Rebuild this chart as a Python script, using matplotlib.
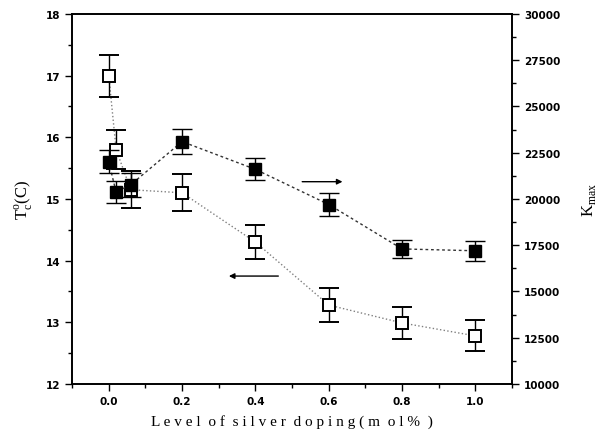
import matplotlib
matplotlib.use('Agg')
import matplotlib.pyplot as plt
from matplotlib.ticker import MultipleLocator

# data
doping = [0.0, 0.02, 0.06, 0.2, 0.4, 0.6, 0.8, 1.0]
tc = [17.0, 15.8, 15.15, 15.1, 14.3, 13.28, 12.99, 12.78]
tc_err = [0.34, 0.32, 0.3, 0.3, 0.28, 0.27, 0.26, 0.25]
kmax = [22000, 20370, 20770, 23100, 21600, 19700, 17300, 17200]
kmax_err = [620, 600, 650, 680, 600, 600, 500, 550]

tick_font = dict(fontsize=7.5, fontweight='bold', family='DejaVu Sans')

fig = plt.figure(figsize=(6.06, 4.39), dpi=100)
ax = fig.add_axes([0.119, 0.123, 0.726, 0.843])
ax2 = ax.twinx()

ax.errorbar(doping, tc, yerr=tc_err, fmt='s', color='black', mfc='white',
            mec='black', mew=1.4, ms=8, capsize=7, elinewidth=1, capthick=1,
            zorder=3)
ax.plot(doping, tc, ':', color='gray', lw=1, zorder=2)

ax2.errorbar(doping, kmax, yerr=kmax_err, fmt='s', color='black', mfc='black',
             mec='black', ms=8, capsize=7, elinewidth=1, capthick=1, zorder=3)
ax2.plot(doping, kmax, linestyle=(0, (2, 2)), color='#333333', lw=1, zorder=2)

ax.set_xlim(-0.1, 1.1)
ax.set_ylim(12, 18)
ax2.set_ylim(10000, 30000)

ax.xaxis.set_major_locator(MultipleLocator(0.2))
ax.xaxis.set_minor_locator(MultipleLocator(0.1))
ax.yaxis.set_major_locator(MultipleLocator(1))
ax.yaxis.set_minor_locator(MultipleLocator(0.5))
ax2.yaxis.set_major_locator(MultipleLocator(2500))
ax2.yaxis.set_minor_locator(MultipleLocator(1250))

ax.set_xticks([0, 0.2, 0.4, 0.6, 0.8, 1.0])
ax.set_xticklabels(['0.0', '0.2', '0.4', '0.6', '0.8', '1.0'], **tick_font)
ax.set_yticks(range(12, 19))
ax.set_yticklabels([str(v) for v in range(12, 19)], **tick_font)
ax2.set_yticks(range(10000, 30001, 2500))
ax2.set_yticklabels([str(v) for v in range(10000, 30001, 2500)], **tick_font)

for a in (ax, ax2):
    a.tick_params(which='major', direction='out', length=5, width=1)
    a.tick_params(which='minor', direction='out', length=3, width=1)
    for s in a.spines.values():
        s.set_linewidth(1.2)

ax.annotate('', xy=(0.645, 15.28), xytext=(0.52, 15.28),
            arrowprops=dict(arrowstyle='-|>', color='black', lw=1,
                            mutation_scale=8))
ax.annotate('', xy=(0.32, 13.75), xytext=(0.47, 13.75),
            arrowprops=dict(arrowstyle='-|>', color='black', lw=1,
                            mutation_scale=8))

ax.set_ylabel(r'T$_\mathregular{c}^\mathregular{o}$(C)', fontsize=12,
              family='Liberation Serif', labelpad=8)
ax2.set_ylabel(r'K$_\mathregular{max}$', fontsize=12,
               family='Liberation Serif', labelpad=14)
ax.set_xlabel('L e v e l  o f  s i l v e r  d o p i n g ( m  o l %  )',
              fontsize=11, family='Liberation Serif', labelpad=6)

plt.savefig('out.png', dpi=100)
